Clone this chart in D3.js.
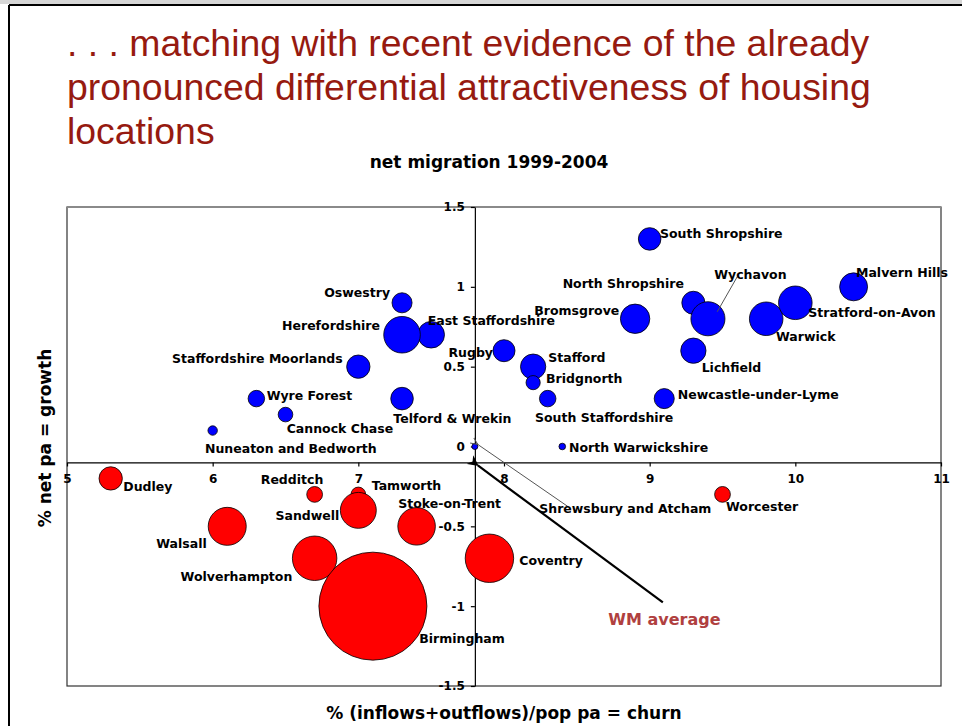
<!DOCTYPE html>
<html>
<head>
<meta charset="utf-8">
<script src="https://cdn.jsdelivr.net/npm/d3@7"></script>
<style>
  body { margin: 0; background: #fff; }
  svg text { font-family: "DejaVu Sans", Verdana, sans-serif; }
</style>
</head>
<body>
<svg id="chart" width="962" height="726"></svg>
<script>
// West Midlands districts: churn (% in+out flows / pop pa) vs growth (% net pa)
const districts = [
  "Oswestry", "East Staffordshire", "Herefordshire", "Rugby", "Staffordshire Moorlands",
  "Wyre Forest", "Cannock Chase", "Nuneaton and Bedworth", "Telford & Wrekin",
  "Shrewsbury and Atcham", "South Shropshire", "North Shropshire", "Wychavon",
  "Bromsgrove", "Warwick", "Stratford-on-Avon", "Malvern Hills", "Lichfield",
  "Stafford", "Bridgnorth", "South Staffordshire", "Newcastle-under-Lyme",
  "North Warwickshire", "Dudley", "Redditch", "Tamworth", "Sandwell", "Walsall",
  "Stoke-on-Trent", "Wolverhampton", "Birmingham", "Coventry", "Worcester"
];
const churn = [
  7.3, 7.5, 7.3, 8.0, 7.0,
  6.3, 6.5, 6.0, 7.3,
  7.8, 9.0, 9.3, 9.4,
  8.9, 9.8, 10.0, 10.4, 9.3,
  8.2, 8.2, 8.3, 9.1,
  8.4, 5.3, 6.7, 7.0, 7.0, 6.1,
  7.4, 6.7, 7.1, 7.9, 9.5
];
const growth = [
  0.9, 0.7, 0.7, 0.6, 0.5,
  0.3, 0.2, 0.1, 0.3,
  0.0, 1.3, 0.9, 0.8,
  0.8, 0.8, 0.9, 1.0, 0.6,
  0.5, 0.4, 0.3, 0.3,
  0.0, -0.2, -0.3, -0.3, -0.4, -0.5,
  -0.5, -0.7, -1.0, -0.7, -0.3
];
// average annual net migrants (absolute), sets the bubble area
const netMigrants = [
  340, 600, 1130, 410, 460,
  230, 180, 75, 430,
  30, 430, 450, 980,
  730, 950, 950, 660, 540,
  540, 170, 230, 340,
  37, 460, 210, 180, 1090, 1220,
  1190, 1670, 9850, 1980, 210
];
const wmAverage = { churn: 7.8, growth: -0.1 };
const xTicks = [5, 6, 7, 8, 9, 10, 11];
const yTicks = [-1.5, -1, -0.5, 0, 0.5, 1, 1.5];
const titleLines = [
  ". . . matching with recent evidence of the already",
  "pronounced differential attractiveness of housing",
  "locations"
];
const chartTitle = "net migration 1999-2004";
const xTitle = "% (inflows+outflows)/pop pa = churn";
const yTitle = "% net pa = growth";

// label placement relative to each bubble centre: [anchor, dx, dy]
const labelLayout = {
  "Oswestry": ["end", -12, -6],
  "East Staffordshire": ["start", -3.5, -9.7],
  "Herefordshire": ["end", -22, -4.7],
  "Rugby": ["end", -11, 6.6],
  "Staffordshire Moorlands": ["end", -15.6, -3.4],
  "Wyre Forest": ["start", 10.3, 1.4],
  "Cannock Chase": ["start", 1.2, 18.1],
  "Nuneaton and Bedworth": ["start", -7.7, 22.8],
  "Telford & Wrekin": ["start", -8.7, 24.1],
  "Shrewsbury and Atcham": ["start", 64.4, 66.8],
  "South Shropshire": ["start", 10.3, -0.6],
  "North Shropshire": ["end", -9.4, -14.5],
  "Wychavon": ["start", 6.3, -39.8],
  "Bromsgrove": ["end", -15.8, -3.8],
  "Warwick": ["start", 9.8, 22.2],
  "Stratford-on-Avon": ["start", 13, 13.9],
  "Malvern Hills": ["start", 2.4, -10.1],
  "Lichfield": ["start", 8.3, 21],
  "Stafford": ["start", 15.2, -5],
  "Bridgnorth": ["start", 12.9, 0.1],
  "South Staffordshire": ["start", -12.7, 23.1],
  "Newcastle-under-Lyme": ["start", 13.5, 0.4],
  "North Warwickshire": ["start", 6.7, 5.2],
  "Dudley": ["start", 12.6, 12.6],
  "Redditch": ["end", 8.7, -10.1],
  "Tamworth": ["start", 13.4, -4.4],
  "Sandwell": ["end", -19, 9.6],
  "Walsall": ["end", -20.5, 21.4],
  "Stoke-on-Trent": ["start", -18.3, -18],
  "Wolverhampton": ["end", -22.3, 22.7],
  "Birmingham": ["start", 46.4, 36.5],
  "Coventry": ["start", 29.9, 6.7],
  "Worcester": ["start", 3.5, 16.6]
};

const svg = d3.select("#chart");

// slide frame
svg.append("rect").attr("x", 0).attr("y", 0).attr("width", 962).attr("height", 4).attr("fill", "#d6d6d6");
svg.append("line").attr("x1", 9).attr("x2", 962).attr("y1", 5).attr("y2", 5).attr("stroke", "#000").attr("stroke-width", 2);
svg.append("line").attr("x1", 9).attr("x2", 9).attr("y1", 5).attr("y2", 726).attr("stroke", "#000").attr("stroke-width", 2);

// slide heading
svg.append("g").selectAll("text").data(titleLines).join("text")
  .attr("x", 67).attr("y", (d, i) => 56 + i * 44)
  .style("font-family", "'Liberation Sans', Arial, sans-serif")
  .style("font-size", "37.4px")
  .attr("fill", "#961a10")
  .text(d => d);

const plot = { left: 67, right: 941, top: 207, bottom: 686 };
const x = d3.scaleLinear().domain([5, 11]).range([plot.left, plot.right]);
const y = d3.scaleLinear().domain([-1.5, 1.5]).range([plot.bottom, plot.top]);
const r = d3.scaleSqrt().domain([0, 9850]).range([0, 54]);

// chart title
svg.append("text").attr("x", 489).attr("y", 168).attr("text-anchor", "middle")
  .style("font-size", "17px").style("font-weight", "bold").text(chartTitle);

// plot area border
svg.append("rect")
  .attr("x", plot.left).attr("y", plot.top)
  .attr("width", plot.right - plot.left).attr("height", plot.bottom - plot.top)
  .attr("fill", "none").attr("stroke", "#333").attr("stroke-width", 1.2);
svg.append("line").attr("x1", plot.left).attr("x2", plot.right)
  .attr("y1", plot.top).attr("y2", plot.top).attr("stroke", "#8a8a8a").attr("stroke-width", 2);

// axes crossing at the West Midlands average
const fmt = d => String(d);
const xAxis = svg.append("g")
  .attr("transform", `translate(0,${y(wmAverage.growth)})`)
  .call(d3.axisBottom(x).tickValues(xTicks).tickFormat(fmt).tickSize(4).tickSizeOuter(0).tickPadding(8));
const yAxis = svg.append("g")
  .attr("transform", `translate(${x(wmAverage.churn)},0)`)
  .call(d3.axisLeft(y).tickValues(yTicks).tickFormat(fmt).tickSize(4).tickSizeOuter(0).tickPadding(6));
[xAxis, yAxis].forEach(g => {
  g.selectAll("path, line").attr("stroke", "#000").attr("stroke-width", 1.2);
  g.selectAll("text").attr("fill", "#000")
    .style("font-family", "'DejaVu Sans', Verdana, sans-serif")
    .style("font-size", "12px").style("font-weight", "bold");
});

// arrow markers
const defs = svg.append("defs");
defs.append("marker").attr("id", "headBlack")
  .attr("viewBox", "0 0 10 10").attr("refX", 1).attr("refY", 5)
  .attr("markerWidth", 5).attr("markerHeight", 5).attr("orient", "auto-start-reverse")
  .append("path").attr("d", "M0,5 L10,0 L7,5 L10,10 Z").attr("fill", "#000");
defs.append("marker").attr("id", "headGrey")
  .attr("viewBox", "0 0 10 10").attr("refX", 1).attr("refY", 5)
  .attr("markerWidth", 8).attr("markerHeight", 8).attr("orient", "auto-start-reverse")
  .append("path").attr("d", "M10,1 L1,5 L10,9").attr("fill", "none").attr("stroke", "#555").attr("stroke-width", 1.2);

const points = districts.map((name, i) => ({
  name, churn: churn[i], growth: growth[i], size: netMigrants[i]
}));

// bubbles
svg.append("g").selectAll("circle").data(points).join("circle")
  .attr("cx", d => x(d.churn)).attr("cy", d => y(d.growth))
  .attr("r", d => Math.max(r(d.size), 3))
  .attr("fill", d => d.growth >= 0 ? "#0000ff" : "#ff0000")
  .attr("stroke", "#000").attr("stroke-width", 0.8);

// leader lines
const pt = name => points.find(p => p.name === name);
const wy = pt("Wychavon");
svg.append("line")
  .attr("x1", x(wy.churn) + 29.3).attr("y1", y(wy.growth) - 42)
  .attr("x2", x(wy.churn) + 9.3).attr("y2", y(wy.growth) - 7)
  .attr("stroke", "#555").attr("stroke-width", 1);
const sa = pt("Shrewsbury and Atcham");
svg.append("line")
  .attr("x1", x(sa.churn) + 93).attr("y1", y(sa.growth) + 60)
  .attr("x2", x(sa.churn) + 3).attr("y2", y(sa.growth) - 2)
  .attr("stroke", "#555").attr("stroke-width", 1)
  .attr("marker-end", "url(#headGrey)");

// data labels
svg.append("g").selectAll("text").data(points).join("text")
  .attr("x", d => x(d.churn) + labelLayout[d.name][1])
  .attr("y", d => y(d.growth) + labelLayout[d.name][2])
  .attr("text-anchor", d => labelLayout[d.name][0])
  .style("font-size", "12.5px").style("font-weight", "bold")
  .attr("fill", "#000")
  .text(d => d.name);

// WM average pointer
const wx = x(wmAverage.churn), wyy = y(wmAverage.growth);
svg.append("line")
  .attr("x1", wx + 188).attr("y1", wyy + 140)
  .attr("x2", wx + 3).attr("y2", wyy + 3)
  .attr("stroke", "#000").attr("stroke-width", 2.2)
  .attr("marker-end", "url(#headBlack)");
svg.append("text").attr("x", wx + 133.4).attr("y", wyy + 162.5)
  .style("font-size", "16px").style("font-weight", "bold")
  .attr("fill", "#b0403f").text("WM average");

// axis titles
svg.append("text").attr("x", 504).attr("y", 719).attr("text-anchor", "middle")
  .style("font-size", "17px").style("font-weight", "bold").text(xTitle);
svg.append("text")
  .attr("transform", "translate(51,438) rotate(-90)")
  .attr("text-anchor", "middle")
  .style("font-size", "17px").style("font-weight", "bold").text(yTitle);
</script>
</body>
</html>
